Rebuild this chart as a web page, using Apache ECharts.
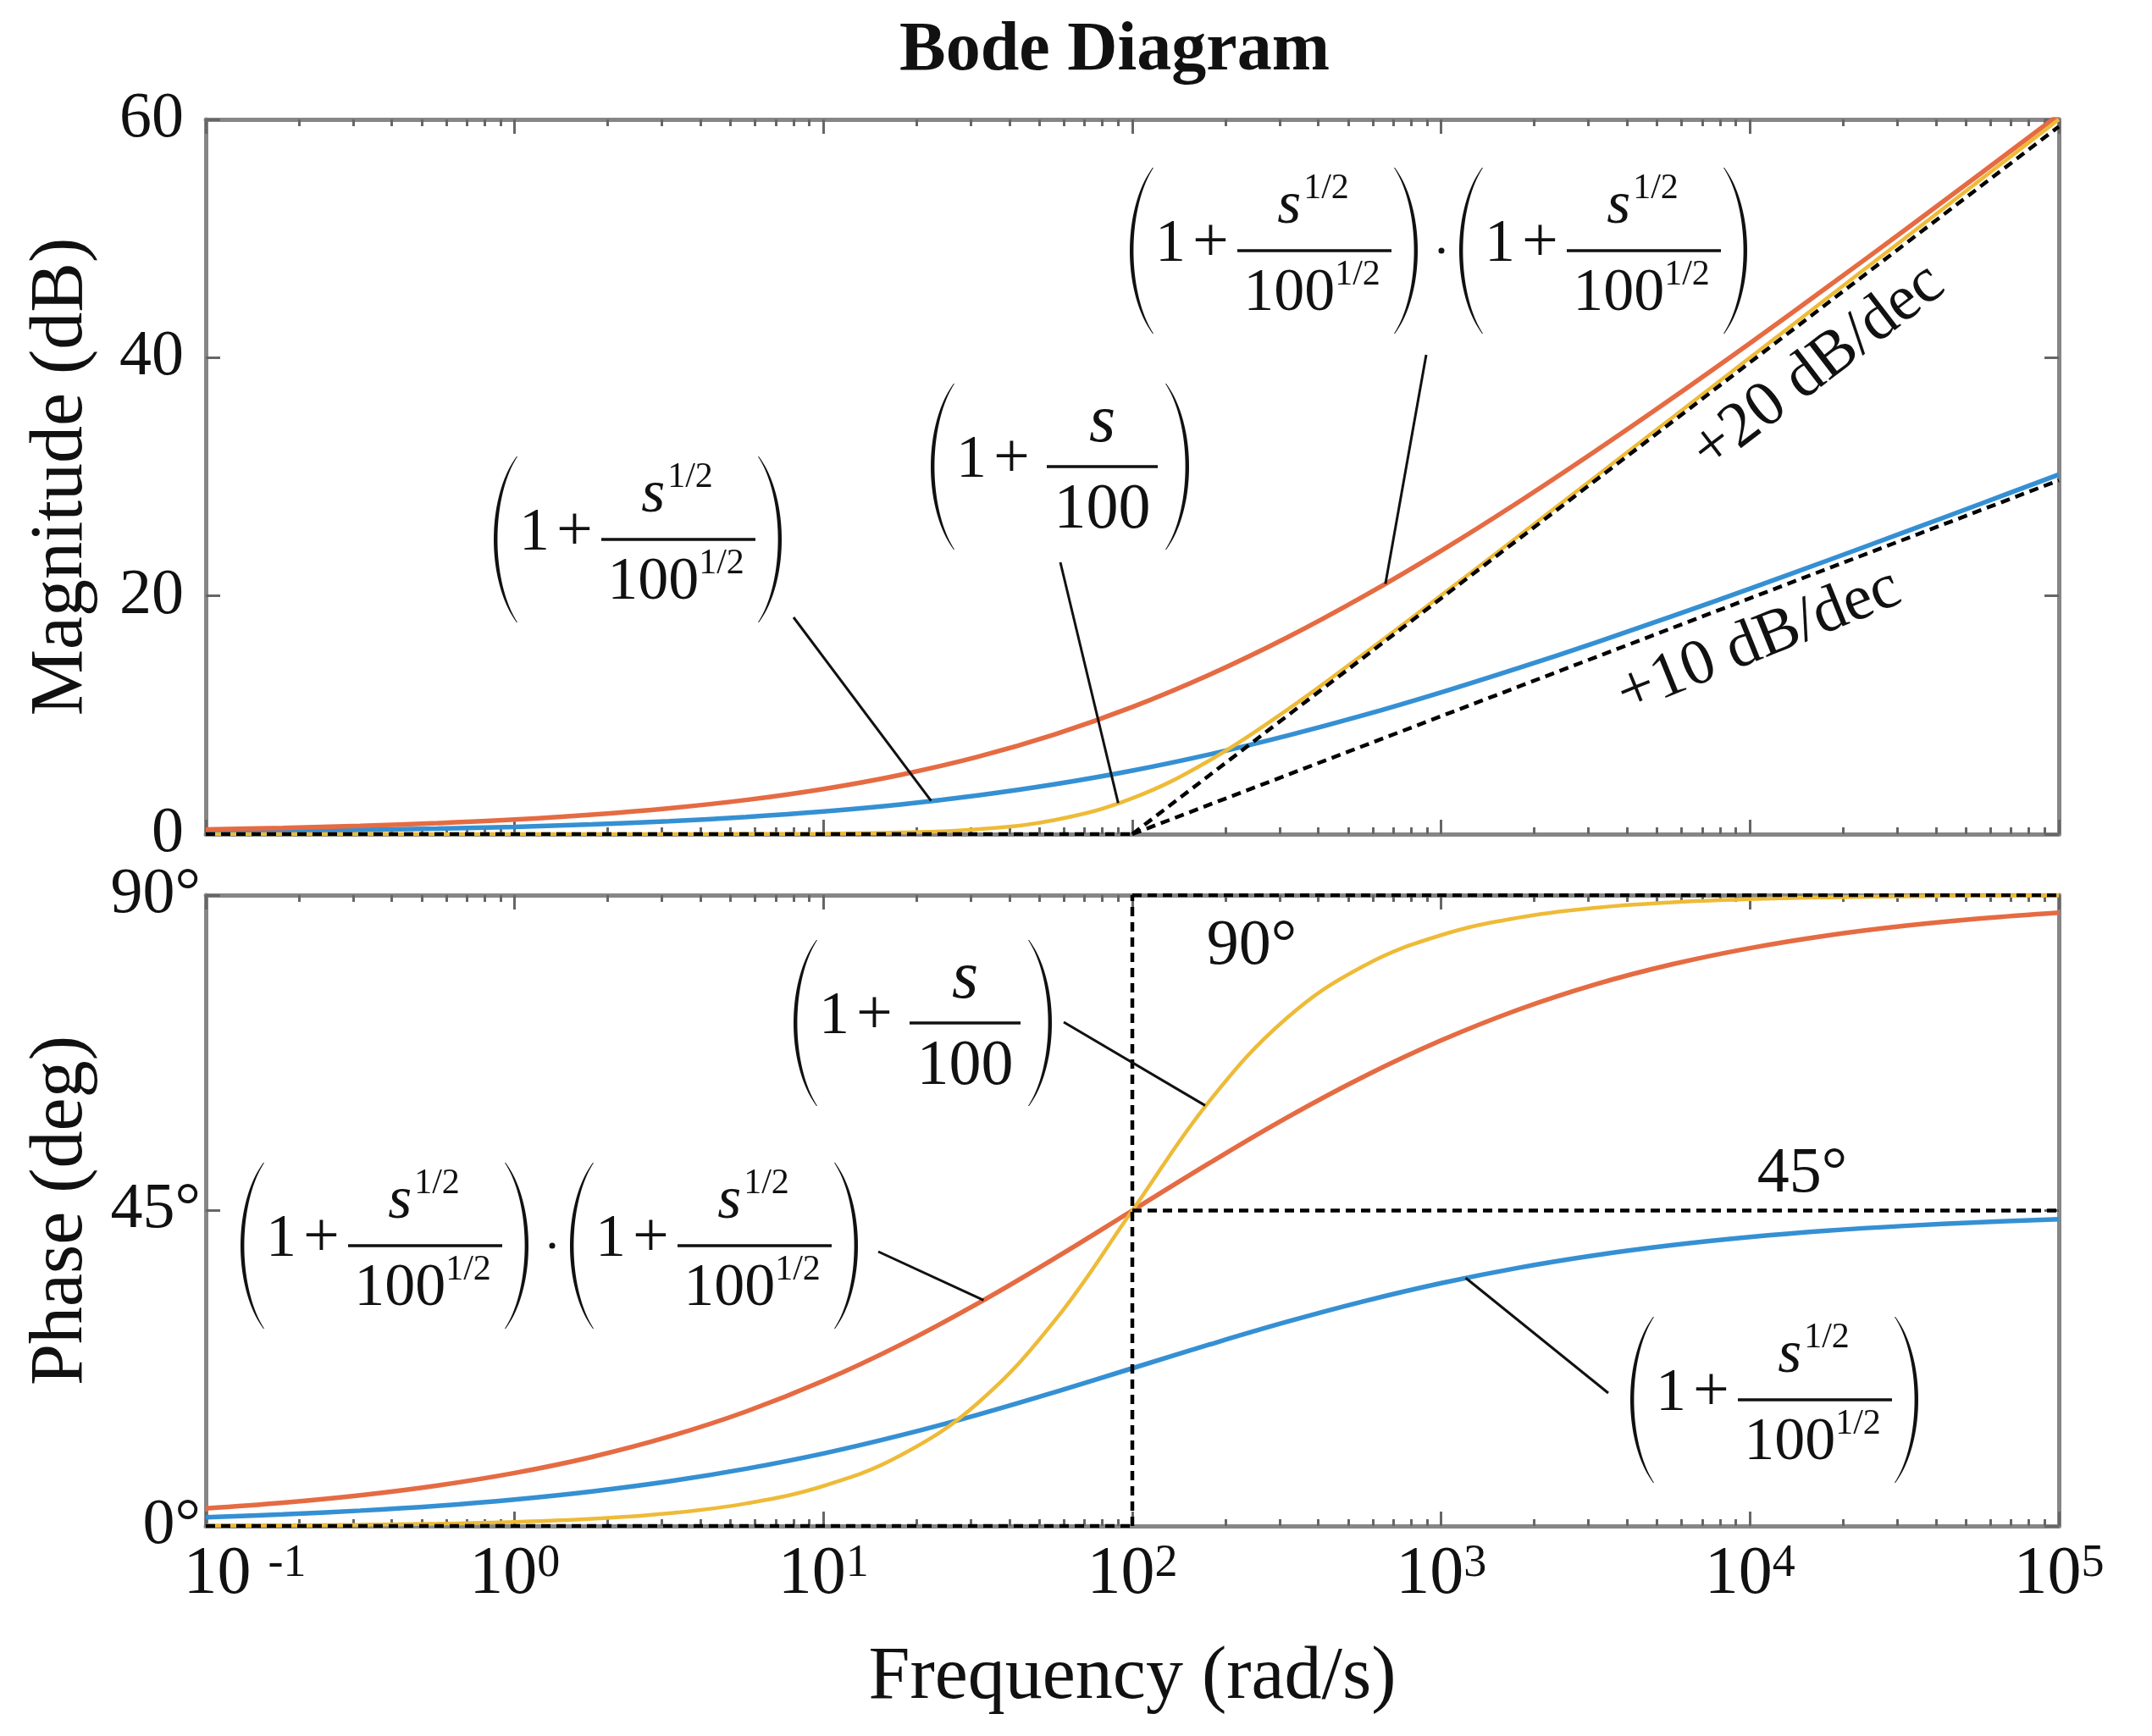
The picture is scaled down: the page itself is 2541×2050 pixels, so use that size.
<!DOCTYPE html>
<html><head><meta charset="utf-8">
<script src="https://cdn.jsdelivr.net/npm/echarts@6/dist/echarts.min.js"></script>
<style>html,body{margin:0;padding:0;background:#fff}#c{width:2541px;height:2050px}</style>
</head><body><div id="c"></div><script>
// ---------- data ----------
const freqs = [0.1,0.1778,0.3162,0.5623,1,1.778,3.162,5.623,10,17.78,31.62,56.23,100,177.8,316.2,562.3,1000,1778,3162,5623,10000,17783,31623,56234,100000];
const blueMag   = [0.19,0.26,0.35,0.46,0.61,0.82,1.08,1.44,1.90,2.49,3.25,4.19,5.33,6.69,8.25,9.99,11.90,13.94,16.08,18.32,20.61,22.96,25.35,27.76,30.19];
const redMag    = [0.39,0.52,0.69,0.92,1.22,1.63,2.17,2.87,3.79,4.98,6.49,8.38,10.67,13.38,16.49,19.98,23.79,27.87,32.17,36.63,41.22,45.92,50.69,55.52,60.39];
const yellowMag = [0.00,0.00,0.00,0.00,0.00,0.00,0.00,0.01,0.04,0.14,0.41,1.19,3.01,6.19,10.41,15.14,20.04,25.01,30.00,35.00,40.00,45.00,50.00,55.00,60.00];
const bluePh    = [1.25,1.66,2.19,2.88,3.78,4.93,6.37,8.17,10.35,12.94,15.88,19.11,22.50,25.89,29.12,32.06,34.64,36.83,38.63,40.07,41.22,42.12,42.81,43.34,43.75];
const redPh     = [2.51,3.32,4.38,5.77,7.56,9.85,12.75,16.34,20.71,25.87,31.76,38.22,45.00,51.78,58.25,64.12,69.27,73.66,77.27,80.15,82.44,84.24,85.62,86.68,87.50];
const yellowPh  = [0.06,0.10,0.18,0.32,0.57,1.02,1.81,3.22,5.71,10.08,17.55,29.36,45.00,60.64,72.45,79.92,84.29,86.78,88.19,88.98,89.43,89.68,89.82,89.90,89.94];

// asymptotes (dashed)
const magFlat  = [[0.1,0],[100,0]];
const mag20    = [[100,0],[100000,59.4]];
const mag10    = [[100,0],[100000,29.7]];
const phFlat0  = [[0.1,0],[100,0]];
const phVert   = [[100,0],[100,90]];
const phFlat90 = [[100,90],[100000,90]];
const phFlat45 = [[100,45],[100000,45]];

// ticks
const decades = [0.1,1,10,100,1000,10000,100000];
const minorMult = [2,3,4,5,6,7,8,9];
const magTicks = [0,20,40,60];
const phaseTicks = [0,45,90];

// leader line tips on curves [freq, value]
const tipA1 = [22.3, 2.8];   // blue magnitude
const tipA2 = [90, 2.6];     // yellow magnitude
const tipA3 = [660, 21.0];   // red magnitude
const tipB1 = [172, 60.0];   // yellow phase
const tipB2 = [33, 32.2];    // red phase
const tipB3 = [1200, 35.4];  // blue phase

// ---------- styles ----------
const FF = '"Liberation Serif","Times New Roman",serif';
const INK = '#111';
const C_BLUE = '#3590D3', C_RED = '#E56B43', C_YEL = '#EEBB38';
const minorVals = [];
decades.slice(0,-1).forEach(d => minorMult.forEach(m => minorVals.push(+(d*m).toPrecision(6))));

const G0 = {left:243, top:141, width:2188, height:844};
const G1 = {left:243, top:1057, width:2188, height:745};

const frame = {show:true, onZero:false, lineStyle:{color:'#868686', width:5}};
const tickSt = {color:'#666', width:3};

function xMajor(grid, pos, labels) {
  return {
    type:'log', logBase:10, gridIndex:grid, position:pos,
    min:decades[0], max:decades[decades.length-1],
    axisLine:frame,
    axisTick:{show:true, inside:true, length:17, lineStyle:tickSt},
    splitLine:{show:false}, minorTick:{show:false},
    axisLabel: labels ? {
      show:true, margin:18, interval:0, showMinLabel:true, showMaxLabel:true,
      formatter: v => {
        const e = Math.round(Math.log10(v));
        if (e < 0) return '{bl|10 }{s|-' + Math.abs(e) + '}';
        return '{b|10}{s|' + e + '}';
      },
      rich:{
        b:{fontSize:80, fontFamily:FF, color:INK},
        bl:{fontSize:80, fontFamily:FF, color:INK, padding:[0,0,0,92]},
        s:{fontSize:54, fontFamily:FF, color:INK, verticalAlign:'top'}
      }
    } : {show:false},
    name: labels ? 'Frequency (rad/s)' : '',
    nameLocation:'middle', nameGap:136,
    nameTextStyle:{fontSize:88, fontFamily:FF, color:INK}
  };
}
function xMinor(grid, pos) {
  return {
    type:'log', logBase:10, gridIndex:grid, position:pos,
    min:decades[0], max:decades[decades.length-1],
    axisLine:{show:false, onZero:false},
    axisTick:{show:true, inside:true, length:8, customValues:minorVals, lineStyle:tickSt},
    axisLabel:{show:false}, splitLine:{show:false}
  };
}
function yAx(grid, pos, ticks, labelOpt, name) {
  return {
    type:'value', gridIndex:grid, position:pos,
    min:ticks[0], max:ticks[ticks.length-1], interval:ticks[1]-ticks[0],
    axisLine:frame,
    axisTick:{show:true, inside:true, length:17, lineStyle:tickSt},
    splitLine:{show:false},
    axisLabel: labelOpt || {show:false},
    name: name || '', nameLocation:'middle', nameRotate:90, nameGap:126,
    nameTextStyle:{fontSize:88, fontFamily:FF, color:INK}
  };
}

const lineS = (name, xi, yi, data, color, width, z) => ({
  name, type:'line', xAxisIndex:xi, yAxisIndex:yi, data, showSymbol:false, symbol:'none',
  smooth:0.4, z:z||2,
  lineStyle:{color, width}
});
const dashS = (xi, yi, data) => ({
  type:'line', xAxisIndex:xi, yAxisIndex:yi, data, showSymbol:false, symbol:'none', z:5,
  lineStyle:{color:'#000', width:4.5, type:[11,7]}
});
const pairs = vals => freqs.map((f,i)=>[f, vals[i]]);

const mctx = document.createElement('canvas').getContext('2d');
function measure(str, size, italic, bold) {
  mctx.font = (italic?'italic ':'') + (bold?'bold ':'') + size + 'px ' + FF;
  return mctx.measureText(str).width;
}
const titleW = measure('Bode Diagram', 82, false, true);

const option = {
  animation:false,
  backgroundColor:'#fff',
  title:{text:'Bode Diagram', left:1316 - titleW/2, top:20, padding:0,
    textStyle:{fontSize:82, fontWeight:'bold', fontFamily:FF, color:INK}},
  grid:[Object.assign({containLabel:false}, G0), Object.assign({containLabel:false}, G1)],
  xAxis:[
    xMajor(0,'bottom',false), xMajor(0,'top',false),
    xMajor(1,'bottom',true),  xMajor(1,'top',false),
    xMinor(0,'bottom'), xMinor(0,'top'), xMinor(1,'bottom'), xMinor(1,'top')
  ],
  yAxis:[
    yAx(0,'left',magTicks,{show:true, margin:26, fontSize:76, fontFamily:FF, color:INK}, 'Magnitude (dB)'),
    yAx(0,'right',magTicks,null),
    yAx(1,'left',phaseTicks,{show:true, margin:6, fontSize:76, fontFamily:FF, color:INK, formatter:v=>v+'°'}, 'Phase (deg)'),
    yAx(1,'right',phaseTicks,null)
  ],
  series:[
    lineS('blue mag',0,0,pairs(blueMag),C_BLUE,5.5,2),
    lineS('red mag',0,0,pairs(redMag),C_RED,5.5,3),
    lineS('yellow mag',0,0,pairs(yellowMag),C_YEL,4.5,4),
    dashS(0,0,magFlat), dashS(0,0,mag20), dashS(0,0,mag10),
    lineS('blue phase',2,2,pairs(bluePh),C_BLUE,5.5,2),
    lineS('red phase',2,2,pairs(redPh),C_RED,5.5,3),
    lineS('yellow phase',2,2,pairs(yellowPh),C_YEL,4.5,4),
    dashS(2,2,phFlat0), dashS(2,2,phVert), dashS(2,2,phFlat90), dashS(2,2,phFlat45)
  ]
};

const chart = echarts.init(document.getElementById('c'), null, {renderer:'canvas'});
chart.setOption(option);

// ---------- annotations ----------
const F = 72, FS = 42;
function txt(str, x, baseline, size, italic, align) {
  return {type:'text', x:x, y:baseline - 0.34*size, z:100,
    style:{text:str, font:(italic?'italic ':'') + size + 'px ' + FF, fill:INK,
      textAlign:align||'left', textVerticalAlign:'middle'}};
}
function paren(xl, yc, h, w, side) {
  const n = 40, th0 = 0.2*Math.PI, s0 = Math.sin(th0), c0 = Math.cos(th0);
  const outer = [], inner = [];
  for (let i=0;i<=n;i++) {
    const th = th0 + (Math.PI - 2*th0)*i/n;
    const y = yc - (h/2)*Math.cos(th)/c0;
    const b = (Math.sin(th) - s0)/(1 - s0);
    const t = 1.0 + 3.4*b;
    if (side === 'L') { const x = xl + w*(1-b); outer.push([x,y]); inner.push([x+t,y]); }
    else { const x = xl + w*b; outer.push([x,y]); inner.push([x-t,y]); }
  }
  return {type:'polygon', z:100, shape:{points: outer.concat(inner.reverse())}, style:{fill:INK}};
}
function factor(X0, Yc, sup) {
  const els = [];
  const W = sup ? 340 : 305;
  els.push(paren(X0, Yc, 196, 27, 'L'));
  els.push(txt('1', X0+30, Yc+18, F));
  els.push(txt('+', X0+74, Yc+18, F+4));
  const b0 = sup ? X0+127 : X0+137, b1 = sup ? X0+309 : X0+268;
  els.push({type:'rect', z:100, shape:{x:b0, y:Yc-1.8, width:b1-b0, height:3.6}, style:{fill:INK}});
  const bc = (b0+b1)/2;
  if (sup) {
    const ws = measure('s', F, true), wsu = measure('1/2', FS);
    const st = bc - (ws + wsu)/2 - 3;
    els.push(txt('s', st, Yc-27, F, true));
    els.push(txt('1/2', st+ws+3, Yc-59, FS));
    const wd = measure('100', F);
    const st2 = bc - (wd + wsu)/2 - 3;
    els.push(txt('100', st2, Yc+76, F));
    els.push(txt('1/2', st2+wd, Yc+43, FS));
  } else {
    els.push(txt('s', bc, Yc-24, F+8, true, 'center'));
    els.push(txt('100', bc, Yc+78, F+4, false, 'center'));
  }
  els.push(paren(X0+W-27, Yc, 196, 27, 'R'));
  return els;
}
function product(X0, Yc) {
  return factor(X0, Yc, true)
    .concat([{type:'circle', z:100, shape:{cx:X0+368, cy:Yc, r:3.5}, style:{fill:INK}}])
    .concat(factor(X0+389, Yc, true));
}
function leader(grid, tip, x1, y1) {
  const p = chart.convertToPixel({gridIndex:grid}, tip);
  return {type:'line', z:100, shape:{x1:x1, y1:y1, x2:p[0], y2:p[1]}, style:{stroke:INK, lineWidth:3}};
}
function rotText(str, cx, cy, deg) {
  return {type:'text', x:cx, y:cy, rotation:deg*Math.PI/180, z:100,
    style:{text:str, font:'76px ' + FF, fill:INK, textAlign:'center', textVerticalAlign:'middle'}};
}

let els = [];
els = els.concat(factor(583, 637, true));          // top: blue
els = els.concat(factor(1099, 551, false));        // top: yellow
els = els.concat(product(1334, 296));              // top: red
els = els.concat(factor(937, 1208, false));        // bottom: yellow
els = els.concat(product(284, 1471));              // bottom: red
els = els.concat(factor(1925, 1653, true));        // bottom: blue
els.push(leader(0, tipA1, 937, 729));
els.push(leader(0, tipA2, 1252, 664));
els.push(leader(0, tipA3, 1684, 419));
els.push(leader(1, tipB1, 1256, 1207));
els.push(leader(1, tipB2, 1037, 1478));
els.push(leader(1, tipB3, 1899, 1645));
els.push(rotText('+20 dB/dec', 2147, 434, 37.5));
els.push(rotText('+10 dB/dec', 2077, 758, 22));
els.push(rotText('90°', 1478, 1118, 0));
els.push(rotText('45°', 2128, 1387, 0));

chart.setOption({graphic:{elements: els}});
</script></body></html>
